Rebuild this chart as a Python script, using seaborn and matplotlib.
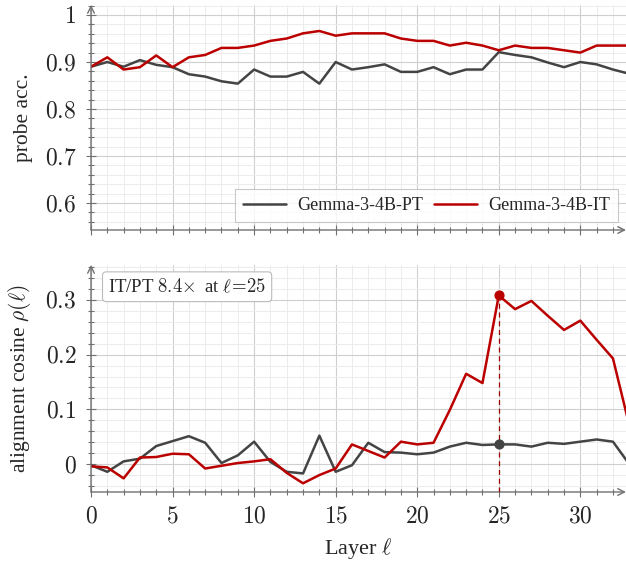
import numpy as np
import pandas as pd
import matplotlib
matplotlib.use("Agg")
import matplotlib.pyplot as plt
from matplotlib.ticker import MultipleLocator, FuncFormatter
import seaborn as sns

layers = list(range(34))

probe_pt = [0.890, 0.900, 0.890, 0.904, 0.894, 0.889, 0.874, 0.869, 0.859, 0.854,
            0.884, 0.869, 0.869, 0.879, 0.854, 0.900, 0.884, 0.889, 0.895, 0.879,
            0.879, 0.889, 0.874, 0.884, 0.884, 0.921, 0.915, 0.910, 0.899, 0.889,
            0.900, 0.895, 0.884, 0.875]
probe_it = [0.890, 0.910, 0.884, 0.889, 0.914, 0.889, 0.910, 0.915, 0.930, 0.930,
            0.935, 0.945, 0.950, 0.961, 0.966, 0.956, 0.961, 0.961, 0.961, 0.950,
            0.945, 0.945, 0.935, 0.941, 0.935, 0.925, 0.935, 0.930, 0.930, 0.925,
            0.920, 0.935, 0.935, 0.935]

align_pt = [-0.002, -0.014, 0.005, 0.010, 0.033, 0.042, 0.051, 0.039, 0.002, 0.016,
            0.041, 0.004, -0.014, -0.017, 0.052, -0.014, -0.002, 0.039, 0.022, 0.021,
            0.018, 0.021, 0.032, 0.039, 0.035, 0.036, 0.036, 0.032, 0.039, 0.037,
            0.041, 0.045, 0.041, 0.000]
align_it = [-0.004, -0.006, -0.026, 0.012, 0.013, 0.019, 0.018, -0.008, -0.003, 0.002,
            0.005, 0.009, -0.016, -0.035, -0.020, -0.008, 0.036, 0.024, 0.012, 0.041,
            0.036, 0.039, 0.099, 0.165, 0.148, 0.308, 0.283, 0.298, 0.271, 0.245,
            0.262, 0.227, 0.193, 0.071]

models = ["Gemma-3-4B-PT", "Gemma-3-4B-IT"]
colors = {"Gemma-3-4B-PT": "#444444", "Gemma-3-4B-IT": "#bb0000"}
peak_layer = 25

sns.set_theme(style="white")
plt.rcParams["font.family"] = ["Liberation Serif", "DejaVu Serif"]
plt.rcParams["mathtext.fontset"] = "cm"
plt.rcParams["axes.unicode_minus"] = False

probe_df = pd.DataFrame({
    "layer": layers * 2,
    "value": probe_pt + probe_it,
    "model": [models[0]] * 34 + [models[1]] * 34,
})
align_df = pd.DataFrame({
    "layer": layers * 2,
    "value": align_pt + align_it,
    "model": [models[0]] * 34 + [models[1]] * 34,
})

fig = plt.figure(figsize=(6.26, 5.65), dpi=100)
W, H = 626, 565
ax1 = fig.add_axes([91 / W, 1 - 230 / H, (W - 91) / W, 225 / H])
ax2 = fig.add_axes([91 / W, 1 - 492 / H, (W - 91) / W, 227 / H])

axis_col = "#707070"


def style_axis(ax, ylim, ymajor):
    ax.set_xlim(0, 32.8)
    ax.set_ylim(*ylim)
    ax.xaxis.set_major_locator(MultipleLocator(5))
    ax.xaxis.set_minor_locator(MultipleLocator(1))
    ax.yaxis.set_major_locator(MultipleLocator(ymajor))
    ax.yaxis.set_minor_locator(MultipleLocator(0.02))
    ax.grid(which="major", color="#cfcfcf", lw=0.8)
    ax.grid(which="minor", color="#ececec", lw=0.7)
    ax.set_axisbelow(True)
    for s in ax.spines.values():
        s.set_visible(False)
    ax.tick_params(which="both", direction="inout", color=axis_col, width=0.8,
                   left=True, bottom=True, labelsize=17, pad=7)
    ax.tick_params(which="major", length=7)
    ax.tick_params(which="minor", length=5)
    ax.xaxis.set_major_formatter(FuncFormatter(lambda v, p: "$%g$" % round(v, 3)))
    ax.yaxis.set_major_formatter(FuncFormatter(lambda v, p: "$%g$" % round(v, 3)))
    ax.annotate("", xy=(1.0, 0), xytext=(0, 0), xycoords="axes fraction",
                arrowprops=dict(arrowstyle="->", color=axis_col, lw=1.0,
                                shrinkA=0, shrinkB=0))
    ax.annotate("", xy=(0, 1.0), xytext=(0, 0), xycoords="axes fraction",
                arrowprops=dict(arrowstyle="->", color=axis_col, lw=1.0,
                                shrinkA=0, shrinkB=0))


sns.lineplot(data=probe_df, x="layer", y="value", hue="model", palette=colors,
             lw=1.8, ax=ax1)
style_axis(ax1, (0.5426, 1.0213), 0.1)
ax1.set_xticklabels([])
ax1.set_xlabel("")
ax1.set_ylabel("probe acc.", fontsize=15.5)
ax1.yaxis.set_label_coords(-0.108, 0.5)
leg = ax1.legend(loc="lower right", bbox_to_anchor=(0.985, 0.035), ncol=2,
                 fontsize=13, frameon=True, fancybox=False, handlelength=2.4,
                 borderaxespad=0, columnspacing=0.6, handletextpad=0.6,
                 borderpad=0.45)
leg.get_frame().set_edgecolor("#bbbbbb")
leg.get_frame().set_linewidth(0.8)
for line in leg.get_lines():
    line.set_linewidth(1.8)

sns.lineplot(data=align_df, x="layer", y="value", hue="model", palette=colors,
             lw=1.8, ax=ax2, legend=False)
style_axis(ax2, (-0.0509, 0.3636), 0.1)
ax2.set_xlabel(r"Layer $\ell$", fontsize=16, labelpad=6)
ax2.set_ylabel(r"alignment cosine $\rho(\ell)$", fontsize=15.5)
ax2.yaxis.set_label_coords(-0.108, 0.5)

ax2.vlines(peak_layer, -0.0509, align_it[peak_layer], colors="#990000",
           linestyles=(0, (4, 3)), lw=0.9, zorder=3)
ax2.scatter([peak_layer], [align_it[peak_layer]], s=40, color=colors[models[1]], zorder=4)
ax2.scatter([peak_layer], [align_pt[peak_layer]], s=40, color=colors[models[0]], zorder=4)

ax2.text(0.032, 0.945, r"IT/PT $\mathbf{8.4}\!\times$ at $\ell\!=\!25$",
         transform=ax2.transAxes, ha="left", va="top", fontsize=13.5,
         bbox=dict(boxstyle="round,pad=0.3,rounding_size=0.2", fc="white",
                   ec="#bbbbbb", lw=0.8))

fig.savefig("out.png", dpi=100)
